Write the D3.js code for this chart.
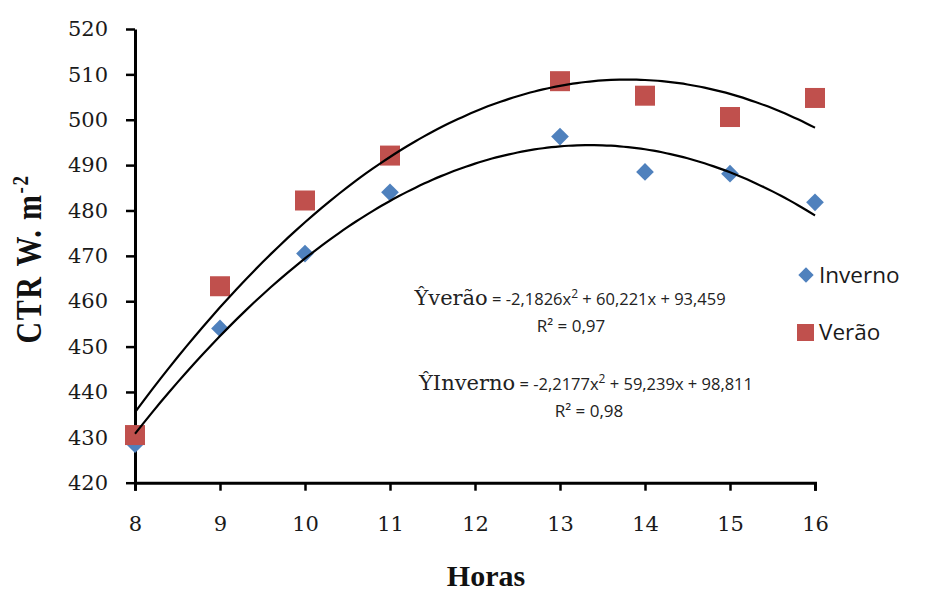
<!DOCTYPE html>
<html>
<head>
<meta charset="utf-8">
<script src="https://cdn.jsdelivr.net/npm/d3@7"></script>
<style>
  body { margin: 0; background: #fff; }
</style>
</head>
<body>
<div class="canvas"></div>
<script>
// dados
const hours = [8, 9, 10, 11, 13, 14, 15, 16];
const inverno = [428.5, 454.0, 470.5, 484.0, 496.3, 488.5, 488.1, 481.8];
const verao = [430.5, 463.3, 482.2, 492.1, 508.5, 505.3, 500.6, 504.8];
const xTicks = [8, 9, 10, 11, 12, 13, 14, 15, 16];
const yTicks = [420, 430, 440, 450, 460, 470, 480, 490, 500, 510, 520];
// coeficientes das equações mostradas (a, b, c -> a + b x + c x²)
const coefVerao = [93.459, 60.221, -2.1826];
const coefInverno = [98.811, 59.239, -2.2177];

const width = 939;
const height = 593;

const svg = d3.select('.canvas')
    .append('svg')
    .attr('width', width)
    .attr('height', height)

const x = d3.scaleLinear()
    .domain([8, 16])
    .range([135, 815]);

const y = d3.scaleLinear()
    .domain([420, 520])
    .range([482.7, 29]);

// eixos
const xAxis = d3.axisBottom(x)
    .tickValues(xTicks)
    .tickSizeInner(8)
    .tickSizeOuter(8)
    .tickPadding(25);

const yAxis = d3.axisLeft(y)
    .tickValues(yTicks)
    .tickSizeInner(9)
    .tickSizeOuter(0)
    .tickPadding(18);

const xAxisGroup = svg.append('g')
    .attr('transform', `translate(0, ${y(420)})`)
    .call(xAxis);

const yAxisGroup = svg.append('g')
    .attr('transform', `translate(${x(8)}, 0)`)
    .call(yAxis);

[xAxisGroup, yAxisGroup].forEach(g => {
    g.select('.domain').attr('stroke', '#000').attr('stroke-width', 3);
    g.selectAll('.tick line').attr('stroke', '#000').attr('stroke-width', 2.5);
    g.selectAll('text')
        .attr('fill', '#1a1a1a')
        .attr('font-family', '"DejaVu Serif", serif')
        .attr('font-size', '21px');
});

// pontos
const graph = svg.append('g');

graph.selectAll('.inv')
    .data(hours.map((h, i) => [h, inverno[i]]))
    .enter()
    .append('path')
    .attr('class', 'inv')
    .attr('d', d3.symbol().type(d3.symbolDiamond2).size(200))
    .attr('transform', d => `translate(${x(d[0])}, ${y(d[1])})`)
    .attr('fill', '#4F81BD');

graph.selectAll('.ver')
    .data(hours.map((h, i) => [h, verao[i]]))
    .enter()
    .append('rect')
    .attr('class', 'ver')
    .attr('width', 20)
    .attr('height', 20)
    .attr('x', d => x(d[0]) - 10)
    .attr('y', d => y(d[1]) - 10)
    .attr('fill', '#C0504D');

// linhas de tendência (polinômio mostrado)
const curve = coef => d3.range(8, 16.001, 0.1)
    .map(t => [t, coef[0] + coef[1] * t + coef[2] * t * t]);

const line = d3.line()
    .x(d => x(d[0]))
    .y(d => y(d[1]))
    .curve(d3.curveMonotoneX);

[coefVerao, coefInverno].forEach(c => {
    graph.append('path')
        .attr('d', line(curve(c)))
        .attr('fill', 'none')
        .attr('stroke', '#000')
        .attr('stroke-width', 2.2);
});

// títulos dos eixos
svg.append('text')
    .attr('x', 486)
    .attr('y', 586)
    .attr('text-anchor', 'middle')
    .attr('font-family', '"Liberation Serif", serif')
    .attr('font-weight', 'bold')
    .attr('font-size', '30px')
    .attr('fill', '#111')
    .text('Horas');

const yTitle = svg.append('text')
    .attr('transform', 'translate(41, 259) rotate(-90) scale(1, 1.2)')
    .attr('text-anchor', 'middle')
    .attr('font-family', '"Liberation Serif", serif')
    .attr('font-weight', 'bold')
    .attr('font-size', '30px')
    .attr('letter-spacing', '1.5px')
    .attr('fill', '#111');
yTitle.append('tspan').text('CTR\u00a0W. m');
yTitle.append('tspan').attr('dy', -11).attr('font-size', '19px').text('-2');

// equações
const equations = [
    { name: 'Ŷverão', rest: ' = -2,1826x', tail: ' + 60,221x + 93,459', r2: 'R² = 0,97', cx: 570, cy: 305, rcx: 571, rcy: 332 },
    { name: 'ŶInverno', rest: ' = -2,2177x', tail: ' + 59,239x + 98,811', r2: 'R² = 0,98', cx: 586, cy: 390, rcx: 589, rcy: 417 }
];

equations.forEach(e => {
    const t = svg.append('text')
        .attr('x', e.cx)
        .attr('y', e.cy)
        .attr('text-anchor', 'middle')
        .attr('fill', '#222')
        .attr('font-family', '"Open Sans", sans-serif')
        .attr('font-size', '16.5px');
    t.append('tspan').attr('font-family', '"DejaVu Serif", serif').attr('font-size', '21px').text(e.name);
    t.append('tspan').text(e.rest);
    t.append('tspan').attr('dy', -7).attr('font-size', '12px').text('2');
    t.append('tspan').attr('dy', 7).text(e.tail);

    svg.append('text')
        .attr('x', e.rcx)
        .attr('y', e.rcy)
        .attr('text-anchor', 'middle')
        .attr('fill', '#222')
        .attr('font-family', '"Open Sans", sans-serif')
        .attr('font-size', '17px')
        .text(e.r2);
});

// legenda
const legend = svg.append('g');

legend.append('path')
    .attr('d', d3.symbol().type(d3.symbolDiamond2).size(150))
    .attr('transform', 'translate(806, 275)')
    .attr('fill', '#4F81BD');

legend.append('rect')
    .attr('x', 797)
    .attr('y', 324)
    .attr('width', 17)
    .attr('height', 17)
    .attr('fill', '#C0504D');

legend.selectAll('.leg')
    .data(['Inverno', 'Verão'])
    .enter()
    .append('text')
    .attr('x', 819)
    .attr('y', (d, i) => 283 + i * 57)
    .attr('font-family', '"Open Sans", sans-serif')
    .attr('font-size', '22.5px')
    .attr('fill', '#1a1a1a')
    .text(d => d);
</script>
</body>
</html>
